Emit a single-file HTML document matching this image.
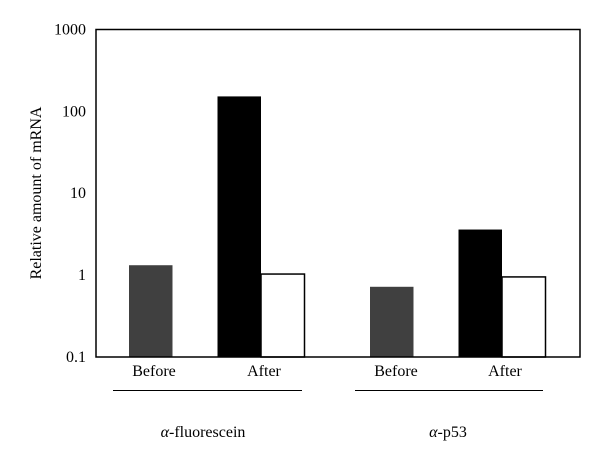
<!DOCTYPE html>
<html><head><meta charset="utf-8"><style>body{margin:0;background:#fff}text{font-family:"Liberation Serif",serif;fill:#000}</style></head>
<body>
<svg width="600" height="460">
<text transform="translate(41,193) rotate(-90)" text-anchor="middle" font-size="16">Relative amount of mRNA</text>
<g id="yt"></g><g id="bars"></g>
<rect x="96" y="29.5" width="484" height="327.5" fill="none" stroke="#000" stroke-width="1.5"/>
<text x="154" y="376" text-anchor="middle" font-size="16">Before</text>
<text x="264" y="376" text-anchor="middle" font-size="16">After</text>
<text x="396" y="376" text-anchor="middle" font-size="16">Before</text>
<text x="505" y="376" text-anchor="middle" font-size="16">After</text>
<line x1="113" x2="302" y1="390.5" y2="390.5" stroke="#000"/>
<line x1="355" x2="543" y1="390.5" y2="390.5" stroke="#000"/>
<text x="203" y="437" text-anchor="middle" font-size="16"><tspan font-style="italic">α</tspan>-fluorescein</text>
<text x="448" y="437" text-anchor="middle" font-size="16"><tspan font-style="italic">α</tspan>-p53</text>
</svg>
<script>
const tickValues=[0.1,1,10,100,1000];
const tickLabels=["0.1","1","10","100","1000"];
const groups=["fluorescein","p53"];
const beforeValues=[1.32,0.72];
const afterBlackValues=[152,3.6];
const afterWhiteValues=[1.03,0.95];
const y0=357,dec=81.9;
function yS(v){return y0-(Math.log10(v)+1)*dec;}
const ns="http://www.w3.org/2000/svg";
const yt=document.getElementById('yt');
tickValues.forEach((v,i)=>{const t=document.createElementNS(ns,'text');


t.setAttribute('x',86);t.setAttribute('y',yS(v)+5);t.setAttribute('text-anchor','end');t.setAttribute('font-size','16');t.textContent=tickLabels[i];yt.appendChild(t);});
const bars=document.getElementById('bars');
const gx=[129,370];
function bar(x,v,fill,name){const r=document.createElementNS(ns,'rect');


const top=yS(v);r.setAttribute('x',x);r.setAttribute('y',top);r.setAttribute('width',43.5);r.setAttribute('height',y0-top);r.setAttribute('fill',fill);
if(fill=='#fff'){r.setAttribute('stroke','#000');r.setAttribute('stroke-width','1.5');}bars.appendChild(r);}
groups.forEach((g,i)=>{bar(gx[i],beforeValues[i],'#404040','bar-before-'+g);bar(gx[i]+88.5,afterBlackValues[i],'#000','bar-after-black-'+g);bar(gx[i]+132,afterWhiteValues[i],'#fff','bar-after-white-'+g);});
</script>
</body></html>
